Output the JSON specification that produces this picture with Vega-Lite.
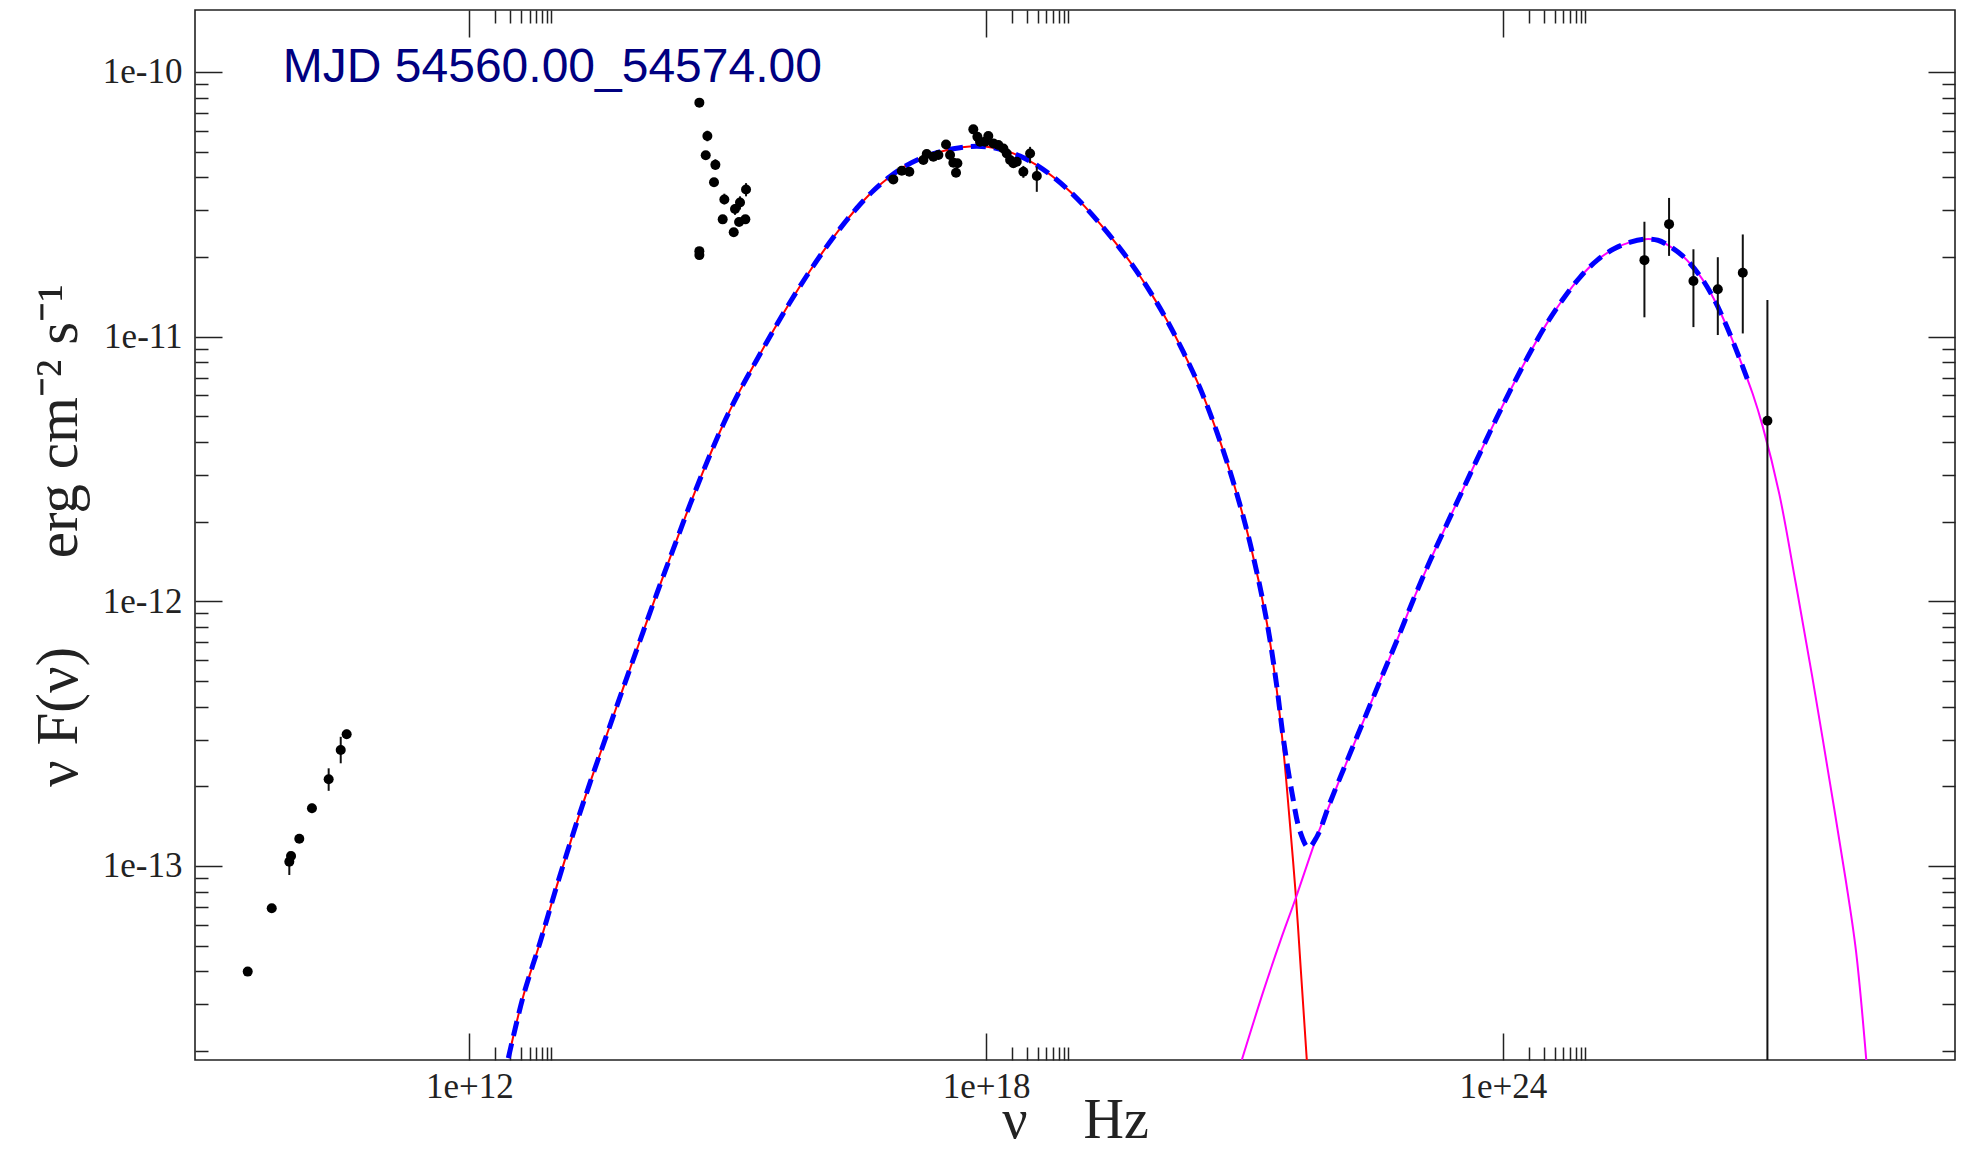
{
  "$schema": "https://vega.github.io/schema/vega-lite/v6.json",
  "autosize": {"type": "none"},
  "padding": {"left": 195, "top": 10, "right": 10, "bottom": 91},
  "width": 1760,
  "height": 1050,
  "background": "white",
  "config": {
    "view": {"stroke": "#222", "strokeWidth": 1.6},
    "axis": {"labelFont": "Liberation Serif", "labelFontSize": 35, "labelColor": "#222", "tickColor": "#222", "tickWidth": 1.5, "domain": false, "grid": false, "titleFont": "Liberation Serif", "titleFontWeight": "normal", "titleColor": "#222"}
  },
  "datasets": {
    "sync": [
      {"log_nu": 12.453, "log_f": -13.726}, {"log_nu": 12.627, "log_f": -13.491}, {"log_nu": 12.821, "log_f": -13.289},
      {"log_nu": 13.015, "log_f": -13.076}, {"log_nu": 13.208, "log_f": -12.875}, {"log_nu": 13.402, "log_f": -12.685},
      {"log_nu": 13.595, "log_f": -12.505}, {"log_nu": 13.788, "log_f": -12.326}, {"log_nu": 13.982, "log_f": -12.148},
      {"log_nu": 14.176, "log_f": -11.972}, {"log_nu": 14.369, "log_f": -11.802}, {"log_nu": 14.563, "log_f": -11.634},
      {"log_nu": 14.757, "log_f": -11.476}, {"log_nu": 14.949, "log_f": -11.331}, {"log_nu": 15.143, "log_f": -11.203},
      {"log_nu": 15.337, "log_f": -11.088}, {"log_nu": 15.53, "log_f": -10.977}, {"log_nu": 15.724, "log_f": -10.87},
      {"log_nu": 15.918, "log_f": -10.77}, {"log_nu": 16.111, "log_f": -10.677}, {"log_nu": 16.304, "log_f": -10.592},
      {"log_nu": 16.498, "log_f": -10.515}, {"log_nu": 16.691, "log_f": -10.449}, {"log_nu": 16.885, "log_f": -10.395},
      {"log_nu": 17.04, "log_f": -10.36}, {"log_nu": 17.23, "log_f": -10.328}, {"log_nu": 17.43, "log_f": -10.305},
      {"log_nu": 17.62, "log_f": -10.29}, {"log_nu": 17.81, "log_f": -10.282},
      {"log_nu": 18.008, "log_f": -10.283}, {"log_nu": 18.2, "log_f": -10.295}, {"log_nu": 18.394, "log_f": -10.318},
      {"log_nu": 18.588, "log_f": -10.352}, {"log_nu": 18.78, "log_f": -10.397}, {"log_nu": 18.975, "log_f": -10.452},
      {"log_nu": 19.15, "log_f": -10.51}, {"log_nu": 19.324, "log_f": -10.574}, {"log_nu": 19.52, "log_f": -10.652}, {"log_nu": 19.71, "log_f": -10.735},
      {"log_nu": 19.9, "log_f": -10.828}, {"log_nu": 20.098, "log_f": -10.937}, {"log_nu": 20.29, "log_f": -11.058},
      {"log_nu": 20.485, "log_f": -11.195}, {"log_nu": 20.679, "log_f": -11.36}, {"log_nu": 20.871, "log_f": -11.55},
      {"log_nu": 21.065, "log_f": -11.78}, {"log_nu": 21.259, "log_f": -12.079}, {"log_nu": 21.375, "log_f": -12.335},
      {"log_nu": 21.452, "log_f": -12.56}, {"log_nu": 21.52, "log_f": -12.81}, {"log_nu": 21.596, "log_f": -13.11},
      {"log_nu": 21.654, "log_f": -13.39}, {"log_nu": 21.724, "log_f": -13.733}
    ],
    "ic": [
      {"log_nu": 20.969, "log_f": -13.733}, {"log_nu": 21.22, "log_f": -13.473}, {"log_nu": 21.42, "log_f": -13.28}, {"log_nu": 21.596, "log_f": -13.121},
      {"log_nu": 21.84, "log_f": -12.89}, {"log_nu": 21.994, "log_f": -12.764}, {"log_nu": 22.188, "log_f": -12.607},
      {"log_nu": 22.381, "log_f": -12.453}, {"log_nu": 22.575, "log_f": -12.3}, {"log_nu": 22.769, "log_f": -12.149},
      {"log_nu": 22.962, "log_f": -11.993}, {"log_nu": 23.155, "log_f": -11.847}, {"log_nu": 23.349, "log_f": -11.709},
      {"log_nu": 23.542, "log_f": -11.574}, {"log_nu": 23.736, "log_f": -11.439}, {"log_nu": 23.93, "log_f": -11.306},
      {"log_nu": 24.123, "log_f": -11.18}, {"log_nu": 24.317, "log_f": -11.06}, {"log_nu": 24.511, "log_f": -10.95},
      {"log_nu": 24.704, "log_f": -10.856}, {"log_nu": 24.898, "log_f": -10.775}, {"log_nu": 25.093, "log_f": -10.712},
      {"log_nu": 25.286, "log_f": -10.669}, {"log_nu": 25.48, "log_f": -10.643}, {"log_nu": 25.65, "log_f": -10.632},
      {"log_nu": 25.8, "log_f": -10.636}, {"log_nu": 25.894, "log_f": -10.65}, {"log_nu": 26.088, "log_f": -10.695},
      {"log_nu": 26.281, "log_f": -10.767}, {"log_nu": 26.437, "log_f": -10.849}, {"log_nu": 26.591, "log_f": -10.955},
      {"log_nu": 26.746, "log_f": -11.08}, {"log_nu": 26.901, "log_f": -11.216}, {"log_nu": 27.018, "log_f": -11.34},
      {"log_nu": 27.211, "log_f": -11.596}, {"log_nu": 27.4, "log_f": -11.93}, {"log_nu": 27.59, "log_f": -12.28},
      {"log_nu": 27.79, "log_f": -12.67}, {"log_nu": 27.98, "log_f": -13.05}, {"log_nu": 28.1, "log_f": -13.32},
      {"log_nu": 28.22, "log_f": -13.733}
    ],
    "total": [
      {"log_nu": 12.453, "log_f": -13.726}, {"log_nu": 12.627, "log_f": -13.491}, {"log_nu": 12.821, "log_f": -13.289},
      {"log_nu": 13.015, "log_f": -13.076}, {"log_nu": 13.208, "log_f": -12.875}, {"log_nu": 13.402, "log_f": -12.685},
      {"log_nu": 13.595, "log_f": -12.505}, {"log_nu": 13.788, "log_f": -12.326}, {"log_nu": 13.982, "log_f": -12.148},
      {"log_nu": 14.176, "log_f": -11.972}, {"log_nu": 14.369, "log_f": -11.802}, {"log_nu": 14.563, "log_f": -11.634},
      {"log_nu": 14.757, "log_f": -11.476}, {"log_nu": 14.949, "log_f": -11.331}, {"log_nu": 15.143, "log_f": -11.203},
      {"log_nu": 15.337, "log_f": -11.088}, {"log_nu": 15.53, "log_f": -10.977}, {"log_nu": 15.724, "log_f": -10.87},
      {"log_nu": 15.918, "log_f": -10.77}, {"log_nu": 16.111, "log_f": -10.677}, {"log_nu": 16.304, "log_f": -10.592},
      {"log_nu": 16.498, "log_f": -10.515}, {"log_nu": 16.691, "log_f": -10.449}, {"log_nu": 16.885, "log_f": -10.395},
      {"log_nu": 17.04, "log_f": -10.36}, {"log_nu": 17.23, "log_f": -10.328}, {"log_nu": 17.43, "log_f": -10.305},
      {"log_nu": 17.62, "log_f": -10.29}, {"log_nu": 17.81, "log_f": -10.282},
      {"log_nu": 18.008, "log_f": -10.283}, {"log_nu": 18.2, "log_f": -10.295}, {"log_nu": 18.394, "log_f": -10.318},
      {"log_nu": 18.588, "log_f": -10.352}, {"log_nu": 18.78, "log_f": -10.397}, {"log_nu": 18.975, "log_f": -10.452},
      {"log_nu": 19.15, "log_f": -10.51}, {"log_nu": 19.324, "log_f": -10.574}, {"log_nu": 19.52, "log_f": -10.652}, {"log_nu": 19.71, "log_f": -10.735},
      {"log_nu": 19.9, "log_f": -10.828}, {"log_nu": 20.098, "log_f": -10.937}, {"log_nu": 20.29, "log_f": -11.058},
      {"log_nu": 20.485, "log_f": -11.195}, {"log_nu": 20.679, "log_f": -11.36}, {"log_nu": 20.871, "log_f": -11.55},
      {"log_nu": 21.065, "log_f": -11.78}, {"log_nu": 21.259, "log_f": -12.075}, {"log_nu": 21.375, "log_f": -12.32},
      {"log_nu": 21.452, "log_f": -12.52}, {"log_nu": 21.55, "log_f": -12.72}, {"log_nu": 21.646, "log_f": -12.87},
      {"log_nu": 21.742, "log_f": -12.93}, {"log_nu": 21.84, "log_f": -12.89}, {"log_nu": 21.994, "log_f": -12.76},
      {"log_nu": 22.188, "log_f": -12.605}, {"log_nu": 22.381, "log_f": -12.453}, {"log_nu": 22.575, "log_f": -12.3},
      {"log_nu": 22.769, "log_f": -12.149}, {"log_nu": 22.962, "log_f": -11.993}, {"log_nu": 23.155, "log_f": -11.847},
      {"log_nu": 23.349, "log_f": -11.709}, {"log_nu": 23.542, "log_f": -11.574}, {"log_nu": 23.736, "log_f": -11.439},
      {"log_nu": 23.93, "log_f": -11.306}, {"log_nu": 24.123, "log_f": -11.18}, {"log_nu": 24.317, "log_f": -11.06},
      {"log_nu": 24.511, "log_f": -10.95}, {"log_nu": 24.704, "log_f": -10.856}, {"log_nu": 24.898, "log_f": -10.775},
      {"log_nu": 25.093, "log_f": -10.712}, {"log_nu": 25.286, "log_f": -10.669}, {"log_nu": 25.48, "log_f": -10.643},
      {"log_nu": 25.65, "log_f": -10.632}, {"log_nu": 25.8, "log_f": -10.636}, {"log_nu": 25.894, "log_f": -10.65},
      {"log_nu": 26.088, "log_f": -10.695}, {"log_nu": 26.281, "log_f": -10.767}, {"log_nu": 26.437, "log_f": -10.849},
      {"log_nu": 26.591, "log_f": -10.955}, {"log_nu": 26.746, "log_f": -11.08}, {"log_nu": 26.85, "log_f": -11.17}
    ],
    "points": [
      {"log_nu": 9.427, "log_f": -13.399},
      {"log_nu": 9.706, "log_f": -13.16, "lo": -13.175, "hi": -13.145},
      {"log_nu": 9.91, "log_f": -12.984, "lo": -13.034, "hi": -12.946},
      {"log_nu": 9.93, "log_f": -12.962},
      {"log_nu": 10.026, "log_f": -12.897},
      {"log_nu": 10.173, "log_f": -12.782, "lo": -12.8, "hi": -12.765},
      {"log_nu": 10.367, "log_f": -12.672, "lo": -12.716, "hi": -12.631},
      {"log_nu": 10.507, "log_f": -12.562, "lo": -12.612, "hi": -12.512},
      {"log_nu": 10.576, "log_f": -12.502, "lo": -12.52, "hi": -12.485},
      {"log_nu": 14.671, "log_f": -10.116},
      {"log_nu": 14.764, "log_f": -10.242, "lo": -10.262, "hi": -10.222},
      {"log_nu": 14.745, "log_f": -10.315},
      {"log_nu": 14.857, "log_f": -10.351, "lo": -10.37, "hi": -10.33},
      {"log_nu": 14.841, "log_f": -10.417},
      {"log_nu": 15.213, "log_f": -10.444, "lo": -10.47, "hi": -10.42},
      {"log_nu": 14.961, "log_f": -10.482, "lo": -10.5, "hi": -10.46},
      {"log_nu": 15.143, "log_f": -10.493, "lo": -10.52, "hi": -10.47},
      {"log_nu": 15.085, "log_f": -10.518, "lo": -10.54, "hi": -10.5},
      {"log_nu": 14.942, "log_f": -10.557},
      {"log_nu": 15.205, "log_f": -10.557},
      {"log_nu": 15.132, "log_f": -10.567},
      {"log_nu": 15.07, "log_f": -10.606},
      {"log_nu": 14.671, "log_f": -10.677},
      {"log_nu": 14.671, "log_f": -10.692},
      {"log_nu": 16.923, "log_f": -10.406},
      {"log_nu": 17.021, "log_f": -10.373},
      {"log_nu": 17.109, "log_f": -10.377},
      {"log_nu": 17.272, "log_f": -10.333},
      {"log_nu": 17.311, "log_f": -10.31},
      {"log_nu": 17.388, "log_f": -10.32},
      {"log_nu": 17.446, "log_f": -10.314},
      {"log_nu": 17.535, "log_f": -10.274},
      {"log_nu": 17.582, "log_f": -10.314},
      {"log_nu": 17.62, "log_f": -10.343},
      {"log_nu": 17.667, "log_f": -10.345},
      {"log_nu": 17.651, "log_f": -10.381},
      {"log_nu": 17.852, "log_f": -10.217},
      {"log_nu": 17.899, "log_f": -10.245},
      {"log_nu": 17.93, "log_f": -10.264},
      {"log_nu": 17.988, "log_f": -10.264},
      {"log_nu": 18.026, "log_f": -10.242},
      {"log_nu": 18.085, "log_f": -10.27},
      {"log_nu": 18.143, "log_f": -10.276},
      {"log_nu": 18.201, "log_f": -10.289},
      {"log_nu": 18.24, "log_f": -10.308},
      {"log_nu": 18.279, "log_f": -10.333},
      {"log_nu": 18.317, "log_f": -10.345},
      {"log_nu": 18.356, "log_f": -10.339},
      {"log_nu": 18.433, "log_f": -10.377, "lo": -10.4, "hi": -10.355},
      {"log_nu": 18.511, "log_f": -10.308, "lo": -10.345, "hi": -10.283},
      {"log_nu": 18.589, "log_f": -10.393, "lo": -10.453, "hi": -10.358},
      {"log_nu": 25.644, "log_f": -10.711, "lo": -10.927, "hi": -10.566},
      {"log_nu": 25.93, "log_f": -10.575, "lo": -10.695, "hi": -10.476},
      {"log_nu": 26.213, "log_f": -10.79, "lo": -10.964, "hi": -10.67},
      {"log_nu": 26.496, "log_f": -10.821, "lo": -10.994, "hi": -10.7},
      {"log_nu": 26.786, "log_f": -10.759, "lo": -10.988, "hi": -10.614},
      {"log_nu": 27.072, "log_f": -11.318, "lo": -14.0, "hi": -10.862}
    ],
    "label": [
      {"log_nu": 9.835, "log_f": -10.038, "text": "MJD 54560.00_54574.00"}
    ]
  },
  "resolve": {"axis": {"x": "independent", "y": "independent"}},
  "layer": [
    {
      "data": {"name": "sync"},
      "mark": {"type": "line", "color": "#ff0000", "strokeWidth": 2, "interpolate": "catmull-rom", "clip": true},
      "encoding": {
        "x": {"field": "log_nu", "type": "quantitative", "scale": {"domain": [8.815, 29.25], "nice": false, "zero": false},
          "axis": {"orient": "bottom", "values": [12, 18, 24], "tickSize": -27, "labelPadding": 36, "labelExpr": "'1e+' + round(datum.value)",
            "title": "ν\u00a0\u00a0\u00a0\u00a0Hz", "titleFontSize": 56, "titleY": 77, "titleBaseline": "alphabetic"}},
        "y": {"field": "log_f", "type": "quantitative", "scale": {"domain": [-13.733, -9.766], "nice": false, "zero": false},
          "axis": {"orient": "left", "values": [-13, -12, -11, -10], "tickSize": -27, "labelPadding": 40, "labelExpr": "'1e' + round(datum.value)",
            "title": "ν\u00a0F(ν)\u00a0\u00a0\u00a0\u00a0\u00a0\u00a0erg\u00a0cm⁻²\u00a0s⁻¹", "titleFontSize": 59, "titleX": -119, "titleAngle": 270, "titleBaseline": "alphabetic"}},
        "order": {"field": "log_nu", "type": "quantitative"}
      }
    },
    {
      "data": {"name": "ic"},
      "mark": {"type": "line", "color": "#ff00ff", "strokeWidth": 2, "interpolate": "catmull-rom", "clip": true},
      "encoding": {
        "x": {"field": "log_nu", "type": "quantitative",
          "axis": {"orient": "bottom", "values": [12.30103, 12.47712, 12.60206, 12.69897, 12.77815, 12.8451, 12.90309, 12.95424, 18.30103, 18.47712, 18.60206, 18.69897, 18.77815, 18.8451, 18.90309, 18.95424, 24.30103, 24.47712, 24.60206, 24.69897, 24.77815, 24.8451, 24.90309, 24.95424],
            "tickSize": -13, "labels": false, "title": null}},
        "y": {"field": "log_f", "type": "quantitative",
          "axis": {"orient": "left", "values": [-13.69897, -13.52288, -13.39794, -13.30103, -13.22185, -13.1549, -13.09691, -13.04576, -12.69897, -12.52288, -12.39794, -12.30103, -12.22185, -12.1549, -12.09691, -12.04576, -11.69897, -11.52288, -11.39794, -11.30103, -11.22185, -11.1549, -11.09691, -11.04576, -10.69897, -10.52288, -10.39794, -10.30103, -10.22185, -10.1549, -10.09691, -10.04576],
            "tickSize": -13, "labels": false, "title": null}},
        "order": {"field": "log_nu", "type": "quantitative"}
      }
    },
    {
      "data": {"name": "total"},
      "mark": {"type": "line", "color": "#0000ff", "strokeWidth": 5, "strokeDash": [15, 8], "interpolate": "catmull-rom", "clip": true},
      "encoding": {
        "x": {"field": "log_nu", "type": "quantitative",
          "axis": {"orient": "top", "values": [12, 18, 24], "tickSize": -27, "labels": false, "title": null}},
        "y": {"field": "log_f", "type": "quantitative",
          "axis": {"orient": "right", "values": [-13, -12, -11, -10], "tickSize": -27, "labels": false, "title": null}},
        "order": {"field": "log_nu", "type": "quantitative"}
      }
    },
    {
      "data": {"name": "points"},
      "transform": [{"filter": "isValid(datum.lo)"}],
      "mark": {"type": "rule", "color": "#111", "strokeWidth": 2, "clip": true},
      "encoding": {
        "x": {"field": "log_nu", "type": "quantitative", "axis": null},
        "y": {"field": "lo", "type": "quantitative", "axis": null},
        "y2": {"field": "hi"}
      }
    },
    {
      "data": {"name": "points"},
      "mark": {"type": "point", "filled": true, "shape": "circle", "color": "#000", "opacity": 1, "size": 100, "clip": true},
      "encoding": {
        "x": {"field": "log_nu", "type": "quantitative",
          "axis": {"orient": "top", "values": [12.30103, 12.47712, 12.60206, 12.69897, 12.77815, 12.8451, 12.90309, 12.95424, 18.30103, 18.47712, 18.60206, 18.69897, 18.77815, 18.8451, 18.90309, 18.95424, 24.30103, 24.47712, 24.60206, 24.69897, 24.77815, 24.8451, 24.90309, 24.95424],
            "tickSize": -13, "labels": false, "title": null}},
        "y": {"field": "log_f", "type": "quantitative",
          "axis": {"orient": "right", "values": [-13.69897, -13.52288, -13.39794, -13.30103, -13.22185, -13.1549, -13.09691, -13.04576, -12.69897, -12.52288, -12.39794, -12.30103, -12.22185, -12.1549, -12.09691, -12.04576, -11.69897, -11.52288, -11.39794, -11.30103, -11.22185, -11.1549, -11.09691, -11.04576, -10.69897, -10.52288, -10.39794, -10.30103, -10.22185, -10.1549, -10.09691, -10.04576],
            "tickSize": -13, "labels": false, "title": null}}
      }
    },
    {
      "data": {"name": "label"},
      "mark": {"type": "text", "font": "Liberation Sans", "fontSize": 48, "color": "#000080", "align": "left", "baseline": "alphabetic"},
      "encoding": {
        "x": {"field": "log_nu", "type": "quantitative", "axis": null},
        "y": {"field": "log_f", "type": "quantitative", "axis": null},
        "text": {"field": "text"}
      }
    }
  ]
}
